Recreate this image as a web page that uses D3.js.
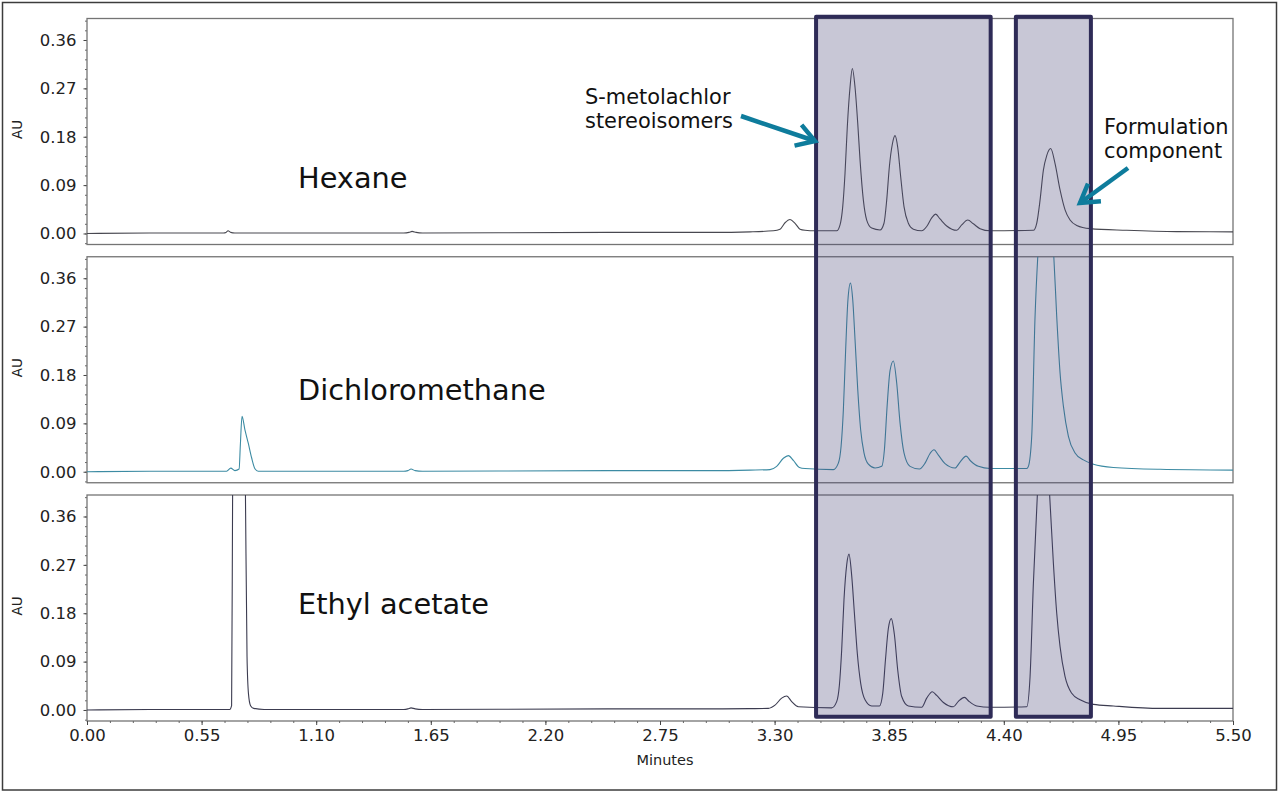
<!DOCTYPE html>
<html>
<head>
<meta charset="utf-8">
<script src="https://cdn.jsdelivr.net/npm/d3@7"></script>
<style>
  html, body { margin: 0; padding: 0; background: #fff; }
  svg { display: block; font-family: "DejaVu Sans", sans-serif; }
</style>
</head>
<body>
<svg id="chart" width="1280" height="793"></svg>
<script>
// Values
const solvents = ['Hexane', 'Dichloromethane', 'Ethyl acetate']
const xTicks = [0, 0.55, 1.1, 1.65, 2.2, 2.75, 3.3, 3.85, 4.4, 4.95, 5.5]
const yTicks = [0, 0.09, 0.18, 0.27, 0.36]

const hexaneTime = [0, 0.3, 0.655, 0.667, 0.677, 0.69, 0.71, 1.0, 1.52, 1.545, 1.56, 1.58, 1.61, 2.5, 3.0, 3.182, 3.294, 3.326, 3.35, 3.374, 3.398, 3.422, 3.446, 3.494, 3.598, 3.614, 3.627, 3.638, 3.649, 3.662, 3.673, 3.686, 3.699, 3.71, 3.726, 3.742, 3.766, 3.806, 3.825, 3.838, 3.851, 3.865, 3.878, 3.891, 3.905, 3.921, 3.942, 3.966, 4.006, 4.03, 4.054, 4.073, 4.094, 4.126, 4.174, 4.198, 4.227, 4.254, 4.286, 4.334, 4.542, 4.558, 4.574, 4.59, 4.606, 4.625, 4.646, 4.67, 4.694, 4.718, 4.75, 4.814, 4.99, 5.23, 5.5]
const hexaneAU = [0, 0.001, 0.001, 0.002, 0.005, 0.002, 0.001, 0.001, 0.001, 0.002, 0.004, 0.002, 0.001, 0.002, 0.002, 0.003, 0.005, 0.008, 0.02, 0.026, 0.019, 0.008, 0.006, 0.005, 0.005, 0.016, 0.05, 0.112, 0.199, 0.272, 0.307, 0.272, 0.205, 0.137, 0.062, 0.025, 0.01, 0.0065, 0.019, 0.062, 0.125, 0.166, 0.182, 0.16, 0.106, 0.05, 0.019, 0.008, 0.005, 0.013, 0.029, 0.036, 0.027, 0.014, 0.006, 0.016, 0.025, 0.018, 0.009, 0.005, 0.006, 0.019, 0.062, 0.118, 0.145, 0.158, 0.13, 0.081, 0.044, 0.025, 0.015, 0.009, 0.006, 0.0035, 0.003]

const dcmTime = [0, 0.3, 0.67, 0.69, 0.71, 0.73, 0.736, 0.744, 0.758, 0.774, 0.79, 0.806, 0.822, 1.0, 1.52, 1.54, 1.555, 1.575, 1.61, 2.5, 3.0, 3.182, 3.278, 3.31, 3.342, 3.366, 3.39, 3.419, 3.446, 3.582, 3.606, 3.619, 3.63, 3.641, 3.652, 3.664, 3.675, 3.686, 3.699, 3.713, 3.729, 3.75, 3.782, 3.814, 3.827, 3.84, 3.854, 3.87, 3.886, 3.902, 3.921, 3.95, 3.995, 4.022, 4.046, 4.065, 4.086, 4.118, 4.166, 4.19, 4.219, 4.241, 4.278, 4.334, 4.51, 4.518, 4.534, 4.55, 4.563, 4.58, 4.598, 4.62, 4.64, 4.654, 4.67, 4.686, 4.71, 4.742, 4.782, 4.83, 4.926, 5.15, 5.5]
const dcmAU = [0, 0.001, 0.001, 0.0067, 0.002, 0.005, 0.05, 0.103, 0.078, 0.053, 0.026, 0.0056, 0.001, 0.001, 0.001, 0.002, 0.005, 0.002, 0.001, 0.002, 0.002, 0.003, 0.004, 0.01, 0.025, 0.03, 0.021, 0.008, 0.006, 0.004, 0.016, 0.047, 0.115, 0.227, 0.32, 0.351, 0.32, 0.246, 0.153, 0.078, 0.035, 0.014, 0.007, 0.01, 0.041, 0.122, 0.188, 0.206, 0.165, 0.091, 0.035, 0.01, 0.005, 0.016, 0.034, 0.041, 0.031, 0.015, 0.007, 0.018, 0.029, 0.02, 0.01, 0.006, 0.006, 0.01, 0.066, 0.289, 0.4, 0.49, 0.52, 0.49, 0.4, 0.289, 0.184, 0.122, 0.066, 0.035, 0.022, 0.014, 0.008, 0.0045, 0.003]

const ethylTime = [0, 0.3, 0.685, 0.694, 0.699, 0.705, 0.73, 0.752, 0.76, 0.768, 0.775, 0.785, 0.8, 0.85, 1.52, 1.54, 1.555, 1.575, 1.61, 2.5, 3.0, 3.182, 3.27, 3.302, 3.334, 3.358, 3.382, 3.414, 3.574, 3.598, 3.611, 3.622, 3.633, 3.646, 3.657, 3.67, 3.683, 3.697, 3.713, 3.734, 3.766, 3.803, 3.819, 3.832, 3.846, 3.86, 3.875, 3.891, 3.91, 3.942, 4.006, 4.03, 4.057, 4.078, 4.11, 4.158, 4.182, 4.211, 4.233, 4.27, 4.334, 4.51, 4.526, 4.542, 4.561, 4.575, 4.59, 4.605, 4.62, 4.638, 4.654, 4.67, 4.694, 4.726, 4.766, 4.83, 4.926, 5.15, 5.5]
const ethylAU = [0, 0.001, 0.001, 0.008, 0.42, 0.7, 0.85, 0.7, 0.42, 0.1, 0.03, 0.008, 0.003, 0.001, 0.001, 0.002, 0.004, 0.002, 0.001, 0.002, 0.002, 0.0025, 0.003, 0.009, 0.022, 0.026, 0.0155, 0.006, 0.004, 0.0155, 0.0465, 0.112, 0.205, 0.27, 0.29, 0.25, 0.18, 0.105, 0.05, 0.019, 0.0075, 0.0075, 0.031, 0.093, 0.152, 0.17, 0.14, 0.074, 0.025, 0.0075, 0.005, 0.022, 0.034, 0.027, 0.014, 0.006, 0.016, 0.0235, 0.016, 0.0075, 0.005, 0.006, 0.062, 0.236, 0.4, 0.49, 0.52, 0.49, 0.4, 0.273, 0.18, 0.118, 0.062, 0.031, 0.019, 0.0105, 0.0075, 0.003, 0.003]

const seriesTime = [hexaneTime, dcmTime, ethylTime]
const seriesAU = [hexaneAU, dcmAU, ethylAU]
const seriesColor = ['#484850', '#3c8ba3', '#3c3c50']

// shaded windows in minutes
const windowStart = [3.499, 4.458]
const windowEnd = [4.337, 4.818]

const svg = d3.select('#chart')

const left = 87
const right = 1233
const panelHeight = 226
const panelTops = [18.5, 256.75, 495]
const labelBaselines = [188, 400, 614]

const x = d3.scaleLinear().domain([0, 5.5]).range([left, right])

// Outer border
svg.append('rect')
  .attr('x', 2.5).attr('y', 2.5)
  .attr('width', 1274).attr('height', 787.5)
  .attr('fill', 'none')
  .attr('stroke', '#3c3c3c')
  .attr('stroke-width', 1.5)

// Minor ticks sit every fifth of a major step
const yMinor = d3.range(-1, 23).map((i) => i * 0.018)
const xMinor = d3.range(0, 51).map((i) => i * 0.11)

panelTops.forEach((top, i) => {
  const y = d3.scaleLinear()
    .domain([-0.0205, 0.4])
    .range([top + panelHeight, top])

  const g = svg.append('g')

  g.append('clipPath').attr('id', 'clip' + i)
    .append('rect')
    .attr('x', left).attr('y', top)
    .attr('width', right - left).attr('height', panelHeight)

  // minor y ticks
  g.append('g')
    .attr('transform', `translate(${left},0)`)
    .call(d3.axisLeft(y).tickValues(yMinor).tickSize(2).tickFormat(''))
    .call((a) => a.select('.domain').remove())
    .selectAll('line').attr('stroke', '#666')

  // major y ticks
  const yAxis = g.append('g')
    .attr('transform', `translate(${left},0)`)
    .call(d3.axisLeft(y).tickValues(yTicks).tickSize(3.5).tickPadding(7).tickFormat(d3.format('.2f')))
  yAxis.select('.domain').remove()
  yAxis.selectAll('line').attr('stroke', '#444')
  yAxis.selectAll('text')
    .attr('fill', '#222')
    .style('font-size', '16.5px')
    .style('font-family', '"DejaVu Sans", sans-serif')

  g.append('text')
    .attr('transform', `translate(22,${top + 111}) rotate(-90)`)
    .attr('text-anchor', 'middle')
    .attr('fill', '#222')
    .style('font-size', '13.5px')
    .text('AU')

  g.append('rect')
    .attr('x', left).attr('y', top)
    .attr('width', right - left).attr('height', panelHeight)
    .attr('fill', 'none')
    .attr('stroke', '#747474')
    .attr('stroke-width', 1.3)

  const line = d3.line()
    .x((d) => x(d[0]))
    .y((d) => y(d[1]))
    .curve(d3.curveMonotoneX)

  g.append('path')
    .datum(d3.zip(seriesTime[i], seriesAU[i]))
    .attr('clip-path', `url(#clip${i})`)
    .attr('d', line)
    .attr('fill', 'none')
    .attr('stroke', seriesColor[i])
    .attr('stroke-width', 1.1)

  svg.append('text')
    .attr('x', 298)
    .attr('y', labelBaselines[i])
    .attr('fill', '#111')
    .style('font-size', '28.8px')
    .text(solvents[i])
})

// x axis under the last panel
const axisY = panelTops[2] + panelHeight
svg.append('g')
  .attr('transform', `translate(0,${axisY})`)
  .call(d3.axisBottom(x).tickValues(xMinor).tickSize(2).tickFormat(''))
  .call((a) => a.select('.domain').remove())
  .selectAll('line').attr('stroke', '#666')

const xAxis = svg.append('g')
  .attr('transform', `translate(0,${axisY})`)
  .call(d3.axisBottom(x).tickValues(xTicks).tickSize(4).tickPadding(4).tickFormat(d3.format('.2f')))
xAxis.select('.domain').remove()
xAxis.selectAll('line').attr('stroke', '#444')
xAxis.selectAll('text')
  .attr('fill', '#222')
  .style('font-size', '16.5px')
  .style('font-family', '"DejaVu Sans", sans-serif')

svg.append('text')
  .attr('x', 665).attr('y', 765)
  .attr('text-anchor', 'middle')
  .attr('fill', '#222')
  .style('font-size', '14.5px')
  .text('Minutes')

// Shaded windows go over the traces, which still show through
svg.selectAll('.window')
  .data(d3.zip(windowStart, windowEnd))
  .join('rect')
  .attr('class', 'window')
  .attr('x', (d) => x(d[0]))
  .attr('y', 16.7)
  .attr('width', (d) => x(d[1]) - x(d[0]))
  .attr('height', 700)
  .attr('fill', '#494778')
  .attr('fill-opacity', 0.3)

svg.selectAll('.windowEdge')
  .data(d3.zip(windowStart, windowEnd))
  .join('rect')
  .attr('class', 'windowEdge')
  .attr('x', (d) => x(d[0]))
  .attr('y', 16.7)
  .attr('width', (d) => x(d[1]) - x(d[0]))
  .attr('height', 700)
  .attr('fill', 'none')
  .attr('stroke', '#2e2b57')
  .attr('stroke-width', 4)
  .attr('stroke-linejoin', 'round')

// Annotations
const noteLines = [
  { text: 'S-metolachlor', x: 585, y: 104 },
  { text: 'stereoisomers', x: 585, y: 128 },
  { text: 'Formulation', x: 1104, y: 134 },
  { text: 'component', x: 1104, y: 158 },
]
svg.selectAll('.note')
  .data(noteLines)
  .join('text')
  .attr('class', 'note')
  .attr('x', (d) => d.x)
  .attr('y', (d) => d.y)
  .attr('fill', '#111')
  .style('font-size', '20.9px')
  .text((d) => d.text)

const arrows = [
  { from: [741, 116], to: [815, 141] },
  { from: [1128, 168], to: [1080, 203] },
]
arrows.forEach((a) => {
  const angle = Math.atan2(a.to[1] - a.from[1], a.to[0] - a.from[0])
  const barb = (da) => [a.to[0] - 21 * Math.cos(angle + da), a.to[1] - 21 * Math.sin(angle + da)]
  const p = svg.append('g')
    .attr('fill', 'none')
    .attr('stroke', '#0e7c9c')
    .attr('stroke-width', 4.5)
    .attr('stroke-linejoin', 'miter')
  p.append('path').attr('d', d3.line()([a.from, a.to]))
  p.append('path').attr('d', d3.line()([barb(0.55), a.to, barb(-0.55)]))
})
</script>
</body>
</html>
